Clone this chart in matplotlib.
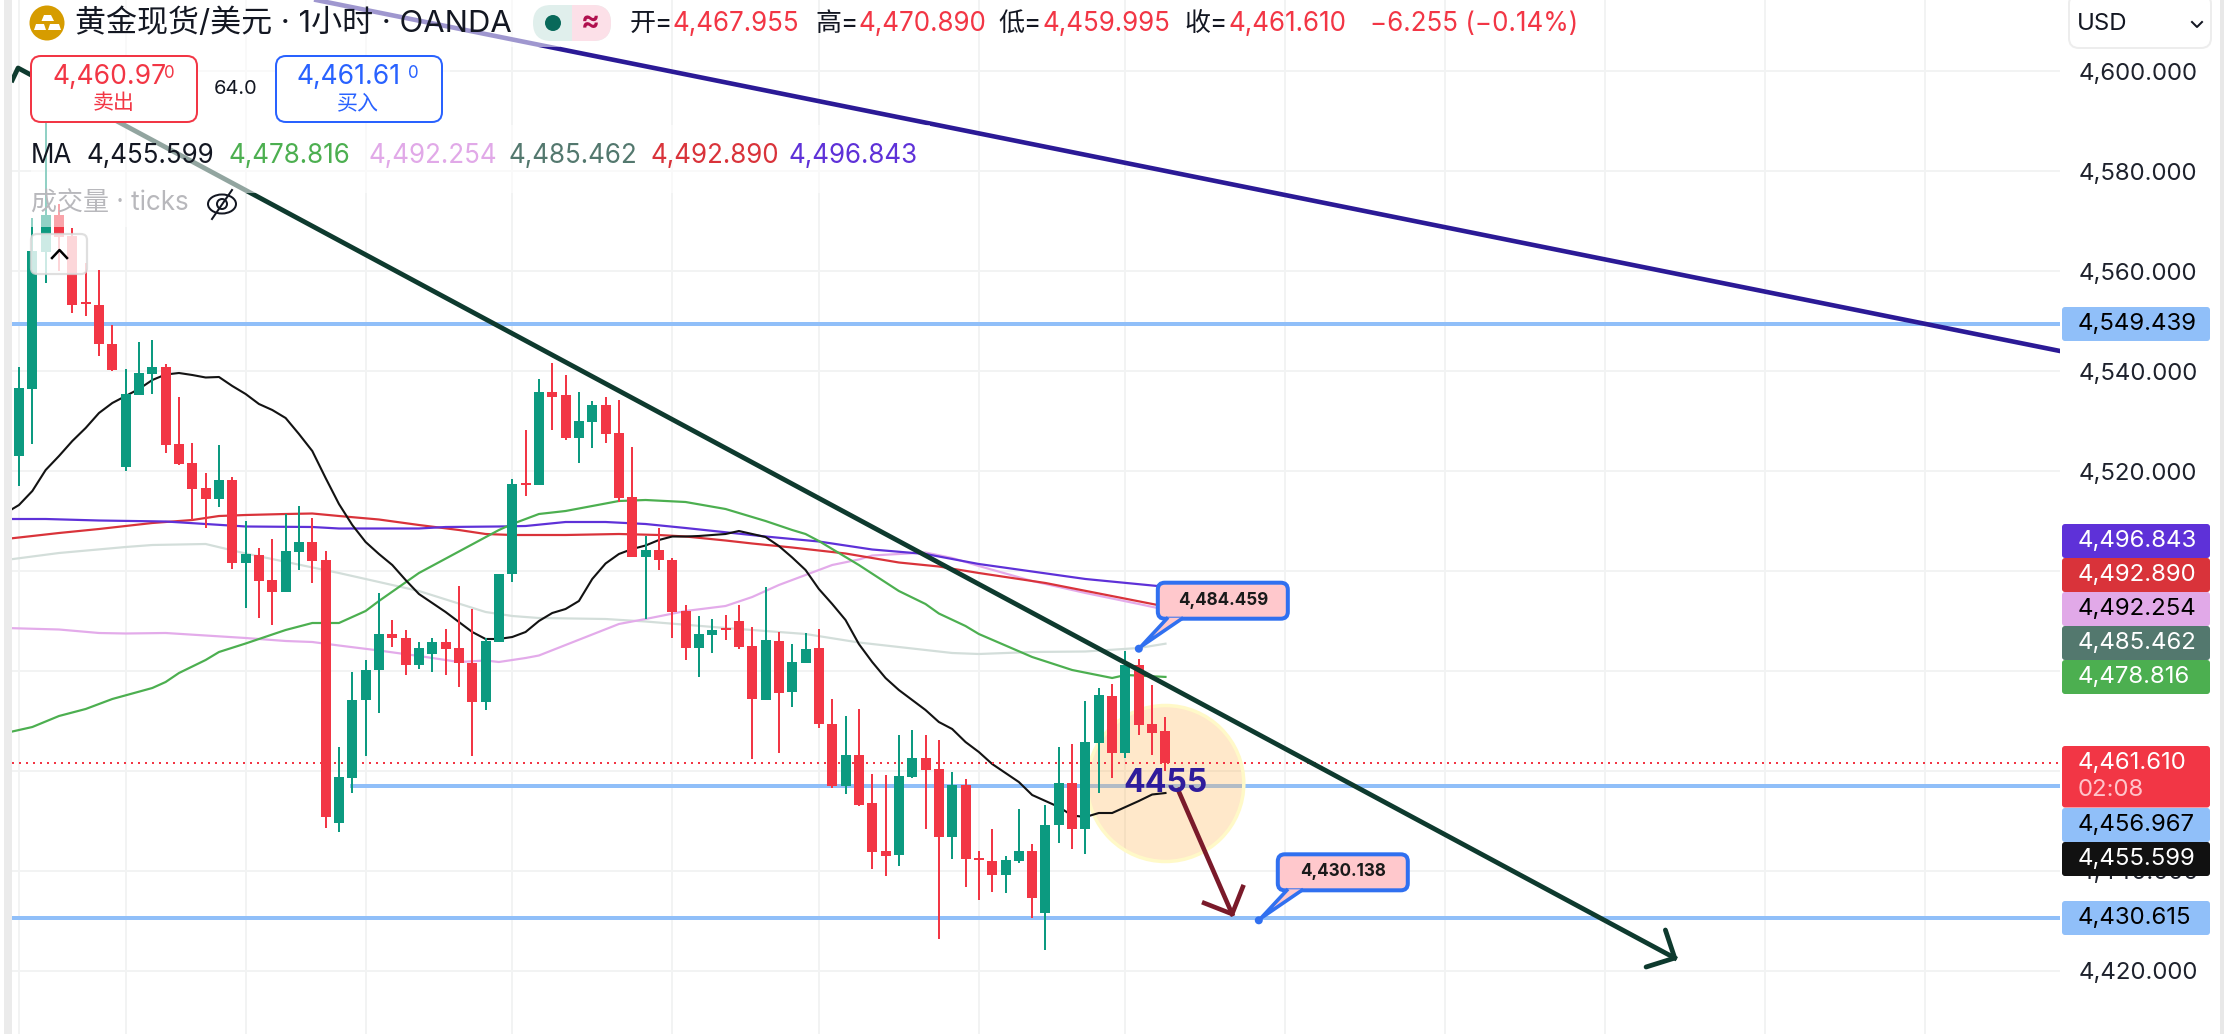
import numpy as np
import matplotlib
matplotlib.use("Agg")
import matplotlib.pyplot as plt
from matplotlib.patches import Rectangle, FancyBboxPatch, Ellipse, Polygon, Circle

plt.rcParams['font.family'] = ['Inter', 'Noto Sans CJK SC', 'DejaVu Sans']

##################### candles ##################################################
opens = [4523.0, 4536.4, 4563.8, 4571.2, 4567.0, 4553.6, 4553.2, 4545.4, 4520.8, 4535.2,
         4539.4, 4540.8, 4525.4, 4521.6, 4516.6, 4514.5, 4518.2, 4501.5, 4503.2, 4498.2,
         4495.8, 4503.8, 4505.8, 4502.2, 4449.5, 4458.7, 4474.1, 4480.1, 4487.4, 4486.6,
         4481.1, 4483.3, 4485.8, 4484.6, 4481.5, 4473.8, 4485.9, 4499.3, 4517.6, 4517.1,
         4535.8, 4535.2, 4526.7, 4529.8, 4533.2, 4527.6, 4514.8, 4502.9, 4504.2, 4502.2,
         4492.0, 4484.6, 4487.2, 4488.4, 4490.0, 4485.0, 4474.2, 4486.0, 4475.9, 4481.6,
         4484.6, 4469.4, 4457.0, 4463.2, 4453.6, 4444.0, 4443.1, 4458.8, 4462.6, 4460.4,
         4446.8, 4457.2, 4442.5, 4442.0, 4439.1, 4442.0, 4444.0, 4431.7, 4449.1, 4457.6,
         4448.3, 4465.7, 4475.0, 4463.7, 4481.2, 4469.4, 4467.955]
closes = [4536.6, 4564.0, 4571.2, 4566.8, 4553.2, 4553.3, 4545.5, 4540.2, 4535.4, 4539.6,
          4540.8, 4525.2, 4521.4, 4516.5, 4514.5, 4518.2, 4501.5, 4503.4, 4498.0, 4495.8,
          4504.0, 4505.8, 4502.0, 4450.8, 4458.8, 4474.2, 4480.2, 4487.4, 4486.5, 4481.1,
          4484.6, 4485.8, 4484.3, 4481.5, 4473.8, 4486.0, 4499.4, 4517.4, 4517.2, 4535.8,
          4534.8, 4526.7, 4530.0, 4533.2, 4527.5, 4514.6, 4502.9, 4504.2, 4502.1, 4491.8,
          4484.6, 4487.4, 4488.2, 4488.1, 4484.9, 4474.3, 4486.2, 4475.7, 4481.8, 4484.4,
          4469.3, 4457.0, 4463.2, 4453.2, 4443.9, 4443.0, 4459.0, 4462.6, 4460.2, 4446.8,
          4457.2, 4442.3, 4442.2, 4439.1, 4442.2, 4444.0, 4434.5, 4449.2, 4457.6, 4448.4,
          4465.8, 4475.2, 4463.7, 4481.2, 4469.2, 4467.7, 4461.61]
highs = [4540.8, 4570.6, 4591.2, 4573.4, 4568.6, 4561.6, 4560.2, 4549.2, 4540.4, 4545.8,
         4546.2, 4541.4, 4534.8, 4525.6, 4519.6, 4525.2, 4518.8, 4510.0, 4504.6, 4506.4,
         4511.3, 4513.0, 4510.6, 4504.0, 4464.8, 4479.8, 4482.2, 4495.6, 4490.2, 4488.2,
         4485.8, 4486.6, 4488.4, 4497.0, 4492.4, 4486.7, 4499.4, 4518.4, 4528.2, 4538.4,
         4541.6, 4539.2, 4535.8, 4534.0, 4534.8, 4534.2, 4524.8, 4507.0, 4508.6, 4502.7,
         4493.2, 4491.0, 4490.4, 4491.2, 4493.2, 4488.8, 4496.8, 4487.8, 4485.4, 4487.6,
         4488.4, 4474.4, 4471.0, 4472.4, 4459.4, 4459.2, 4467.2, 4468.2, 4467.2, 4466.2,
         4459.8, 4458.4, 4444.0, 4448.4, 4443.0, 4452.4, 4445.4, 4453.2, 4464.8, 4465.4,
         4474.0, 4476.6, 4477.4, 4484.0, 4482.4, 4477.2, 4470.89]
lows = [4517.0, 4525.4, 4557.6, 4560.0, 4551.6, 4551.0, 4543.0, 4540.0, 4520.0, 4535.2,
        4535.4, 4523.7, 4521.2, 4510.2, 4508.7, 4512.8, 4500.3, 4492.6, 4490.5, 4489.1,
        4495.8, 4500.1, 4497.6, 4448.5, 4447.8, 4455.6, 4463.0, 4471.7, 4484.8, 4479.2,
        4480.3, 4479.8, 4479.2, 4476.8, 4463.0, 4472.2, 4485.9, 4497.9, 4515.0, 4517.1,
        4528.1, 4526.2, 4521.7, 4524.7, 4525.6, 4513.8, 4502.9, 4490.4, 4500.2, 4486.5,
        4482.1, 4478.9, 4483.5, 4486.2, 4484.3, 4462.4, 4474.1, 4463.7, 4472.8, 4481.6,
        4468.5, 4456.7, 4455.4, 4453.0, 4440.4, 4439.0, 4441.0, 4458.6, 4448.4, 4426.4,
        4442.4, 4436.8, 4434.1, 4435.9, 4435.7, 4441.7, 4430.7, 4424.1, 4445.7, 4444.3,
        4443.3, 4455.7, 4458.5, 4462.5, 4467.1, 4463.1, 4459.995]

##################### moving averages ##########################################
ma1_idx = list(range(-1, 87))
ma1 = [4511.6, 4513.2, 4516.0, 4520.2, 4523.0, 4526.0, 4528.6, 4531.6, 4533.6, 4535.0,
       4536.4, 4538.2, 4539.3, 4539.6, 4539.2, 4538.7, 4538.8, 4537.0, 4535.4, 4533.4,
       4532.2, 4530.6, 4527.4, 4524.0, 4518.6, 4513.4, 4509.2, 4505.8, 4503.4, 4501.2,
       4498.2, 4495.4, 4493.6, 4491.8, 4489.8, 4487.8, 4486.4, 4486.4, 4486.8, 4487.8,
       4490.0, 4491.6, 4492.4, 4494.0, 4498.4, 4501.5, 4503.4, 4504.4, 4505.1, 4506.2,
       4506.9, 4506.9, 4507.0, 4507.2, 4507.4, 4508.0, 4507.4, 4506.8, 4505.0, 4502.7,
       4500.2, 4496.4, 4493.4, 4490.2, 4485.4, 4481.8, 4478.6, 4476.2, 4474.2, 4472.2,
       4469.8, 4468.4, 4465.8, 4463.8, 4461.4, 4459.6, 4457.8, 4455.2, 4454.0, 4452.8,
       4451.1, 4450.8, 4451.6, 4451.6, 4452.8, 4454.0, 4455.3, 4455.599]
ma2_idx = [-1, 0, 1, 3, 5, 7, 10, 11, 12, 14, 15, 17, 20, 22, 24, 26, 27, 30, 36, 37, 39, 41,
           45, 47, 50, 53, 56, 58, 59, 60, 63, 66, 68, 69, 71, 72, 76, 79, 82, 83, 86]
ma2 = [4467.6, 4468.2, 4468.8, 4471.0, 4472.4, 4474.4, 4476.6, 4477.8, 4479.6, 4482.2, 4483.8,
       4485.5, 4488.2, 4489.6, 4489.6, 4492.0, 4494.0, 4499.6, 4508.2, 4509.4, 4511.4, 4512.0,
       4514.0, 4514.2, 4513.8, 4512.4, 4510.0, 4508.2, 4507.4, 4506.0, 4501.2, 4496.0, 4493.4,
       4491.5, 4489.0, 4487.4, 4482.8, 4480.2, 4478.6, 4479.2, 4478.816]
ma3_idx = [-1, 3, 6, 8, 11, 14, 17, 20, 22, 24, 27, 30, 33, 35, 36, 38, 39, 45, 47, 50, 53, 55,
           56, 57, 59, 61, 63, 64, 68, 70, 72, 76, 80, 84, 86]
ma3 = [4488.6, 4488.3, 4487.6, 4487.5, 4487.6, 4487.1, 4486.6, 4486.0, 4485.8, 4485.1, 4484.1,
       4483.0, 4481.8, 4482.1, 4481.8, 4482.6, 4483.1, 4489.4, 4490.4, 4492.0, 4493.0, 4494.8,
       4496.0, 4497.2, 4499.2, 4501.2, 4502.3, 4503.1, 4503.7, 4502.6, 4501.0, 4498.0, 4495.6,
       4493.4, 4492.254]
ma4_idx = [-1, 3, 8, 10, 14, 17, 24, 30, 35, 37, 39, 44, 47, 53, 59, 63, 68, 70, 72, 76, 80, 84, 86]
ma4 = [4502.2, 4503.6, 4504.8, 4505.2, 4505.4, 4503.5, 4499.6, 4496.0, 4491.8, 4491.0, 4490.6,
       4490.4, 4489.9, 4488.6, 4487.4, 4485.7, 4484.2, 4483.6, 4483.4, 4483.8, 4483.9, 4484.6,
       4485.462]
ma5_idx = [-1, 1, 3, 6, 8, 10, 13, 15, 17, 20, 22, 24, 27, 30, 33, 35, 37, 41, 45, 48, 50, 53,
           55, 58, 62, 64, 66, 69, 72, 77, 86]
ma5 = [4506.4, 4507.0, 4507.6, 4508.4, 4509.0, 4509.6, 4510.2, 4511.0, 4511.2, 4511.4, 4511.5,
       4511.0, 4510.3, 4509.2, 4508.2, 4507.4, 4507.2, 4507.2, 4507.4, 4507.2, 4506.9, 4506.1,
       4505.5, 4504.7, 4503.5, 4502.6, 4501.7, 4500.9, 4499.6, 4497.6, 4492.89]
ma6_idx = [-1, 2, 6, 11, 14, 17, 22, 24, 30, 32, 36, 38, 41, 44, 47, 50, 56, 60, 64, 68, 72, 76, 80, 86]
ma6 = [4510.4, 4510.4, 4510.1, 4509.9, 4509.4, 4508.9, 4508.8, 4508.5, 4508.5, 4508.8, 4508.9,
       4509.0, 4509.8, 4509.8, 4509.4, 4508.6, 4506.9, 4505.9, 4504.3, 4503.4, 4501.4, 4499.9,
       4498.4, 4496.843]

##################### levels and drawings ######################################
price_ticks = [4600, 4580, 4560, 4540, 4520, 4500, 4480, 4460, 4440, 4420]
covered_ticks = [4500, 4480, 4460]  # these fall behind the price tags
time_grid = [0, 8, 17, 26, 37, 49, 60, 72, 83, 95, 107, 119, 131, 143]
level_top = 4549.439
level_mid = 4456.967
level_low = 4430.615
last_price = 4461.61
ma_last = [4455.599, 4478.816, 4492.254, 4485.462, 4492.89, 4496.843]
trend_x = [-0.5, -0.07, 124.2]
trend_y = [4598.2, 4600.6, 4422.6]
trend_head_x = [123.5, 124.2, 122.05]
trend_head_y = [4428.2, 4422.6, 4420.8]
channel_x = [22.3, 153.1]
channel_y = [4614.2, 4544.0]
drop_x = [86.95, 91.0]
drop_y = [4456.2, 4431.4]
drop_head_x = [88.9, 91.0, 91.8]
drop_head_y = [4433.6, 4431.4, 4436.8]
note_x = [84, 93]
note_y = [4484.459, 4430.138]

GREEN = "#0C9A80"
RED = "#F23645"
BLUE = "#90BFF9"
INK = "#131722"


def fs(px):
    # font size in points for a height given in pixels at dpi 100
    return px * 0.72


def lw(px):
    return px * 0.72


fig = plt.figure(figsize=(22.24, 10.34), dpi=100, facecolor="white")
ax = fig.add_axes([12 / 2224, 0, 2048 / 2224, 1])
ax.set_xlim(-0.525, 153.1)
ax.set_ylim(4407.4, 4614.2)
for s in ax.spines.values():
    s.set_visible(False)
ax.set_xticks(time_grid)
ax.set_yticks(price_ticks)
ax.set_yticklabels(["" if p in covered_ticks else "{:,.3f}".format(p) for p in price_ticks])
ax.tick_params(axis="x", length=0, labelbottom=False)
ax.tick_params(axis="y", length=0, left=False, right=False, labelleft=False, labelright=True,
               pad=13.2, labelsize=fs(24), labelcolor="#1E222D")
ax.grid(True, color="#F2F3F3", lw=lw(2))
ax.set_axisbelow(True)

# support and resistance levels
ax.axhline(level_top, color=BLUE, lw=lw(4), zorder=1)
ax.plot([25, 153.1], [level_mid, level_mid], color=BLUE, lw=lw(4), zorder=1)
ax.axhline(level_low, color=BLUE, lw=lw(4), zorder=1)

# highlighted zone around the last candle
ax.add_patch(Ellipse((86, 4457.5), 11.75, 31.2, facecolor="#FFB450", alpha=0.3, edgecolor="none", zorder=1.5))
ax.add_patch(Ellipse((86, 4457.5), 11.75, 31.2, facecolor="none", edgecolor="#FFF9C8", lw=lw(3.5), zorder=1.6))

# moving averages sit under the candles
ax.plot(ma4_idx, ma4, color="#D3DEDA", lw=lw(2.2), zorder=2)
ax.plot(ma3_idx, ma3, color="#E3ABEA", lw=lw(2.2), zorder=2)
ax.plot(ma5_idx, ma5, color="#D9333A", lw=lw(2.2), zorder=2.1)
ax.plot(ma6_idx, ma6, color="#5E31D8", lw=lw(2.2), zorder=2.1)
ax.plot(ma2_idx, ma2, color="#4CAF50", lw=lw(2.2), zorder=2.2)
ax.plot(ma1_idx, ma1, color="#131313", lw=lw(2.1), zorder=2.3)

ax.plot([-0.525, 153.1], [last_price, last_price], color=RED, lw=lw(2), linestyle=(0, (1, 2.5)),
        dash_capstyle="butt", zorder=2.4)

idx = np.arange(len(opens))
o = np.array(opens)
c = np.array(closes)
colors = [GREEN if cl >= op else RED for op, cl in zip(o, c)]
ax.vlines(idx, lows, highs, colors=colors, lw=lw(2), zorder=3)
ax.bar(idx, np.maximum(np.abs(c - o), 0.4), bottom=np.minimum(o, c), width=0.75, color=colors, zorder=3.1)

# hand drawn lines
ax.plot(channel_x, channel_y, color="#2B1A96", lw=lw(4.6), zorder=4)
ax.plot(trend_x, trend_y, color="#0E3A2E", lw=lw(4.8), zorder=4)
ax.plot(trend_head_x, trend_head_y, color="#0E3A2E", lw=lw(4.8), zorder=4, solid_capstyle="round")
ax.plot(drop_x, drop_y, color="#7A1A2A", lw=lw(4.6), zorder=4)
ax.plot(drop_head_x, drop_head_y, color="#7A1A2A", lw=lw(4.6), zorder=4)
ax.text(86, 4457.4, "4455", color="#2F1C9C", fontsize=fs(32), fontweight="bold", ha="center",
        va="center", zorder=5)

##################### screen furniture, drawn in pixels ########################
ui = fig.add_axes([0, 0, 1, 1])
ui.set_xlim(0, 2224)
ui.set_ylim(1034, 0)
ui.axis("off")
ui.patch.set_alpha(0)

ui.add_patch(Rectangle((4, 0), 8, 1034, color="#EBEBEB", lw=0))
ui.add_patch(Rectangle((2220, 0), 4, 1034, color="#E8E8E8", lw=0))

# legend rows wash out what runs behind them
for x0, y0, x1, y1 in [(20, 0, 560, 47), (31, 47, 450, 125), (31, 125, 930, 193), (31, 193, 200, 227)]:
    ui.add_patch(Rectangle((x0, y0), x1 - x0, y1 - y0, color="white", alpha=0.55, lw=0))


def rbox(x0, y0, x1, y1, face, edge="none", r=3, width=0, alpha=None, z=6):
    p = FancyBboxPatch((x0, y0), x1 - x0, y1 - y0, boxstyle="round,pad=0,rounding_size=%g" % r,
                       facecolor=face, edgecolor=edge, lw=lw(width), alpha=alpha, zorder=z)
    ui.add_patch(p)
    return p


# price tags on the scale
tag_labels = [("{:,.3f}".format(ma_last[5]), 541, "#5E31D8", "white"),
              ("{:,.3f}".format(ma_last[4]), 575, "#D9333A", "white"),
              ("{:,.3f}".format(ma_last[2]), 609, "#E1A9E8", "black"),
              ("{:,.3f}".format(ma_last[3]), 643, "#53786E", "white"),
              ("{:,.3f}".format(ma_last[1]), 677, "#4CAF50", "white"),
              ("{:,.3f}".format(level_mid), 825, BLUE, "black"),
              ("{:,.3f}".format(ma_last[0]), 859, "#111111", "white"),
              ("{:,.3f}".format(level_low), 918, BLUE, "black"),
              ("{:,.3f}".format(level_top), 324, BLUE, "black")]
for text, yc, face, ink in tag_labels:
    rbox(2062, yc - 17, 2210, yc + 17, face)
    ui.text(2078, yc, text, color=ink, fontsize=fs(24), va="center", ha="left", zorder=7)
rbox(2062, 746, 2210, 807.5, RED)
ui.text(2078, 763, "{:,.3f}".format(last_price), color="white", fontsize=fs(24), va="center", zorder=7)
ui.text(2078, 790, "02:08", color="#FFC4CA", fontsize=fs(24), va="center", zorder=7)

rbox(2069, -6, 2211, 48, "white", "#EDEDED", r=10, width=2)
ui.text(2077, 24, "USD", color=INK, fontsize=fs(24), va="center", zorder=7)
ui.plot([2192, 2197, 2202], [22, 27, 22], color=INK, lw=lw(2), zorder=7)

# symbol line
ui.add_patch(Circle((47, 23), 17.5, color="#D69C00", lw=0, zorder=6))
for pts in [[(41.5, 21), (44, 15), (51, 15), (54, 21)], [(34, 30), (36, 24), (44, 24), (46, 30)],
            [(48, 30), (50, 24), (59, 24), (61, 30)]]:
    ui.add_patch(Polygon(pts, color="white", lw=0, zorder=7))
ui.text(75, 23, "黄金现货/美元 · 1小时 · OANDA", color=INK, fontsize=fs(31), va="center", zorder=7)

pill = rbox(533, 5, 611, 41, "#E0EFEC", r=18)
halves = Rectangle((572, 5), 39, 36, color="#FCE0E8", lw=0, zorder=6.1)
ui.add_patch(halves)
halves.set_clip_path(pill)
ui.add_patch(Ellipse((553, 23), 16, 16, color="#08695A", lw=0, zorder=7))
ui.text(590, 23, "≈", color="#B0104E", fontsize=fs(28), fontweight="bold", ha="center", va="center", zorder=7)

ohlc_text = [(630, "开=", INK), (672, "4,467.955", RED), (815, "高=", INK), (858, "4,470.890", RED),
             (998, "低=", INK), (1043, "4,459.995", RED), (1184, "收=", INK), (1228, "4,461.610", RED),
             (1370, "−6.255 (−0.14%)", RED)]
for x, text, ink in ohlc_text:
    ui.text(x, 24, text, color=ink, fontsize=fs(26), va="center", zorder=7)

# order buttons
rbox(31, 56, 197, 122, "white", RED, r=10, width=2)
ui.text(52, 77, "4,460.97", color=RED, fontsize=fs(26.5), va="center", zorder=7)
ui.text(164, 73, "0", color=RED, fontsize=fs(17), va="center", zorder=7)
ui.text(114, 103, "卖出", color=RED, fontsize=fs(21), ha="center", va="center", zorder=7)
ui.text(236, 89, "64.0", color=INK, fontsize=fs(20), ha="center", va="center", zorder=7)
rbox(276, 56, 442, 122, "white", "#2962FF", r=10, width=2)
ui.text(297, 77, "4,461.61", color="#2962FF", fontsize=fs(26.5), va="center", zorder=7)
ui.text(408, 73, "0", color="#2962FF", fontsize=fs(17), va="center", zorder=7)
ui.text(358, 103, "买入", color="#2962FF", fontsize=fs(21), ha="center", va="center", zorder=7)

# indicator rows
ma_row = [(87, ma_last[0], INK), (228, ma_last[1], "#4CAF50"), (368, ma_last[2], "#E1A9E8"),
          (509, ma_last[3], "#53786E"), (650, ma_last[4], "#D9333A"), (788, ma_last[5], "#5E31D8")]
ui.text(31, 156, "MA", color=INK, fontsize=fs(26), va="center", zorder=7)
for x, value, ink in ma_row:
    ui.text(x, 156, "{:,.3f}".format(value), color=ink, fontsize=fs(26), va="center", zorder=7)
ui.text(31, 204, "成交量 · ticks", color="#B8B8BC", fontsize=fs(26), va="center", zorder=7)
ui.add_patch(Ellipse((222, 204), 28, 19, facecolor="none", edgecolor=INK, lw=lw(2), zorder=7))
ui.add_patch(Circle((222, 204), 5, facecolor="none", edgecolor=INK, lw=lw(2), zorder=7))
ui.plot([212, 232], [219, 190], color=INK, lw=lw(2), zorder=7)

rbox(31, 234, 87, 274, "white", "#D8D8D8", r=6, width=2.2, alpha=0.8)
ui.plot([52, 59.5, 67], [258, 250, 258], color="black", lw=lw(2.5), zorder=7)


# price notes with a tail down to the anchor point
def note(xv, yv):
    px, py = ax.transData.transform((xv, yv))
    py = 1034 - py
    rbox(px + 19, py - 66, px + 149, py - 30, "#FFC8CC", "#3070F0", r=7, width=4, z=8)
    ui.add_patch(Polygon([(px + 2, py - 3), (px + 28, py - 31), (px + 43, py - 31)], facecolor="#FFC8CC",
                         edgecolor="none", zorder=8.1))
    ui.plot([px + 28, px + 2, px + 43], [py - 30, py - 2, py - 30], color="#3070F0", lw=lw(3.6), zorder=8.2)
    ui.add_patch(Circle((px, py), 4, color="#3070F0", lw=0, zorder=8.3))
    ui.text(px + 84, py - 48.5, "{:,.3f}".format(yv), color="#1A1A1A", fontsize=fs(17), fontweight="bold",
            ha="center", va="center", zorder=8.4)


for xv, yv in zip(note_x, note_y):
    note(xv, yv)

fig.savefig("out.png", dpi=100, facecolor="white")
